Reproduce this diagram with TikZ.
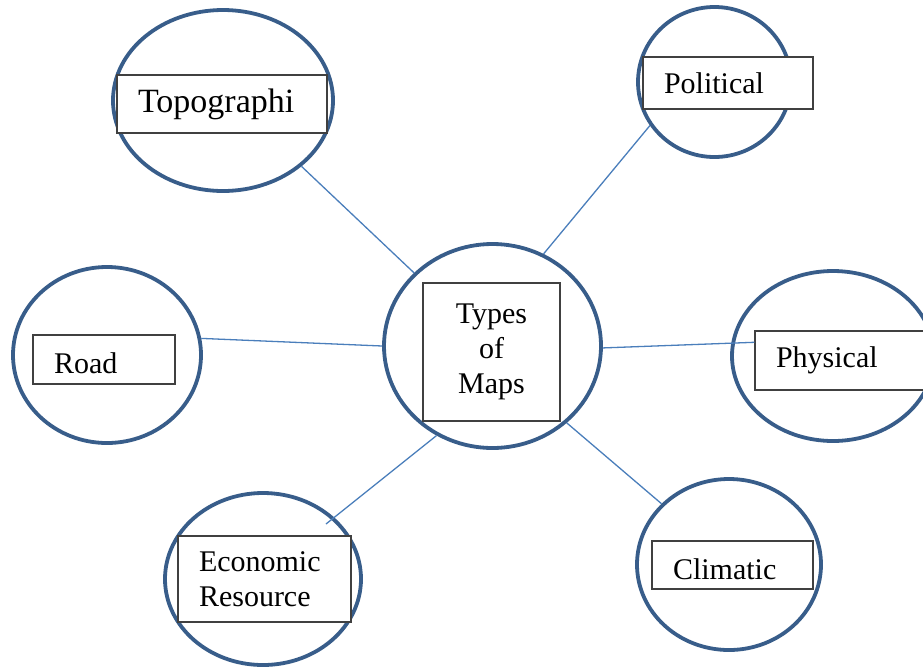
\documentclass[tikz,border=0pt]{standalone}
\usepackage{fontspec}
\setmainfont{Liberation Serif}
\usetikzlibrary{shapes.geometric}
\definecolor{bubbleblue}{HTML}{385D8A}
\definecolor{linkblue}{HTML}{4A7EBB}

\begin{document}
\begin{tikzpicture}[x=1pt,y=-1pt]
                          \tikzstyle{every node}+=[inner sep=0pt]
                          \tikzstyle{bubble}=[ellipse, draw=bubbleblue, line width=3.8pt]
                          \tikzstyle{tag}=[draw=black!75, fill=white, line width=1.3pt, inner xsep=21pt, align=left, font=\fontsize{30}{35}\selectfont]
                          \tikzstyle{link}=[linkblue, line width=1.3pt]
                          \useasboundingbox (0,0) rectangle (923,670);
                          \node [bubble, minimum width=217pt, minimum height=204pt] (maps) at (492.5,346) {};
                          \node [bubble, minimum width=220pt, minimum height=181pt] (topo) at (223,100.5) {};
                          \node [bubble, minimum width=153pt, minimum height=150pt] (pol) at (714.5,82) {};
                          \node [bubble, minimum width=188pt, minimum height=176pt] (road) at (107,355) {};
                          \node [bubble, minimum width=202pt, minimum height=170pt] (phys) at (833,356) {};
                          \node [bubble, minimum width=196pt, minimum height=172pt] (econ) at (263,579) {};
                          \node [bubble, minimum width=184pt, minimum height=171pt] (clim) at (729,564.5) {};
                          \coordinate (econtip) at (326,524);
                          \draw [link] (topo.320) -- (maps.137);
                          \draw [link] (pol.214) -- (maps.61);
                          \draw [link] (road.10) -- (maps.180);
                          \draw [link] (econtip) -- (maps.238);
                          \draw [link] (maps.314) -- (clim.138);
                          \node [tag, align=center, text width=95pt, minimum height=138pt] (mapsbox) at (491.5,352) {Types\\of\\Maps};
                          \node [tag, text width=168pt, minimum height=58pt, font=\fontsize{34}{40}\selectfont] (topobox) at (222,104) {Topographi};
                          \node [tag, text width=128pt, minimum height=52pt] (polbox) at (728,83) {Political};
                          \node [tag, text width=100pt, minimum height=49pt, text height=28pt, text depth=0pt] (roadbox) at (104,359.5) {Road};
                          \node [tag, text width=128pt, minimum height=59pt] (physbox) at (840,360.5) {Physical};
                          \node [tag, text width=131pt, minimum height=86pt] (econbox) at (264.5,579) {Economic\\Resource};
                          \node [tag, text width=119pt, minimum height=48pt, text height=28pt, text depth=0pt] (climbox) at (732.5,565) {Climatic};
                          \draw [link] (maps.359) -- (physbox.168);
                      \end{tikzpicture}
\end{document}
